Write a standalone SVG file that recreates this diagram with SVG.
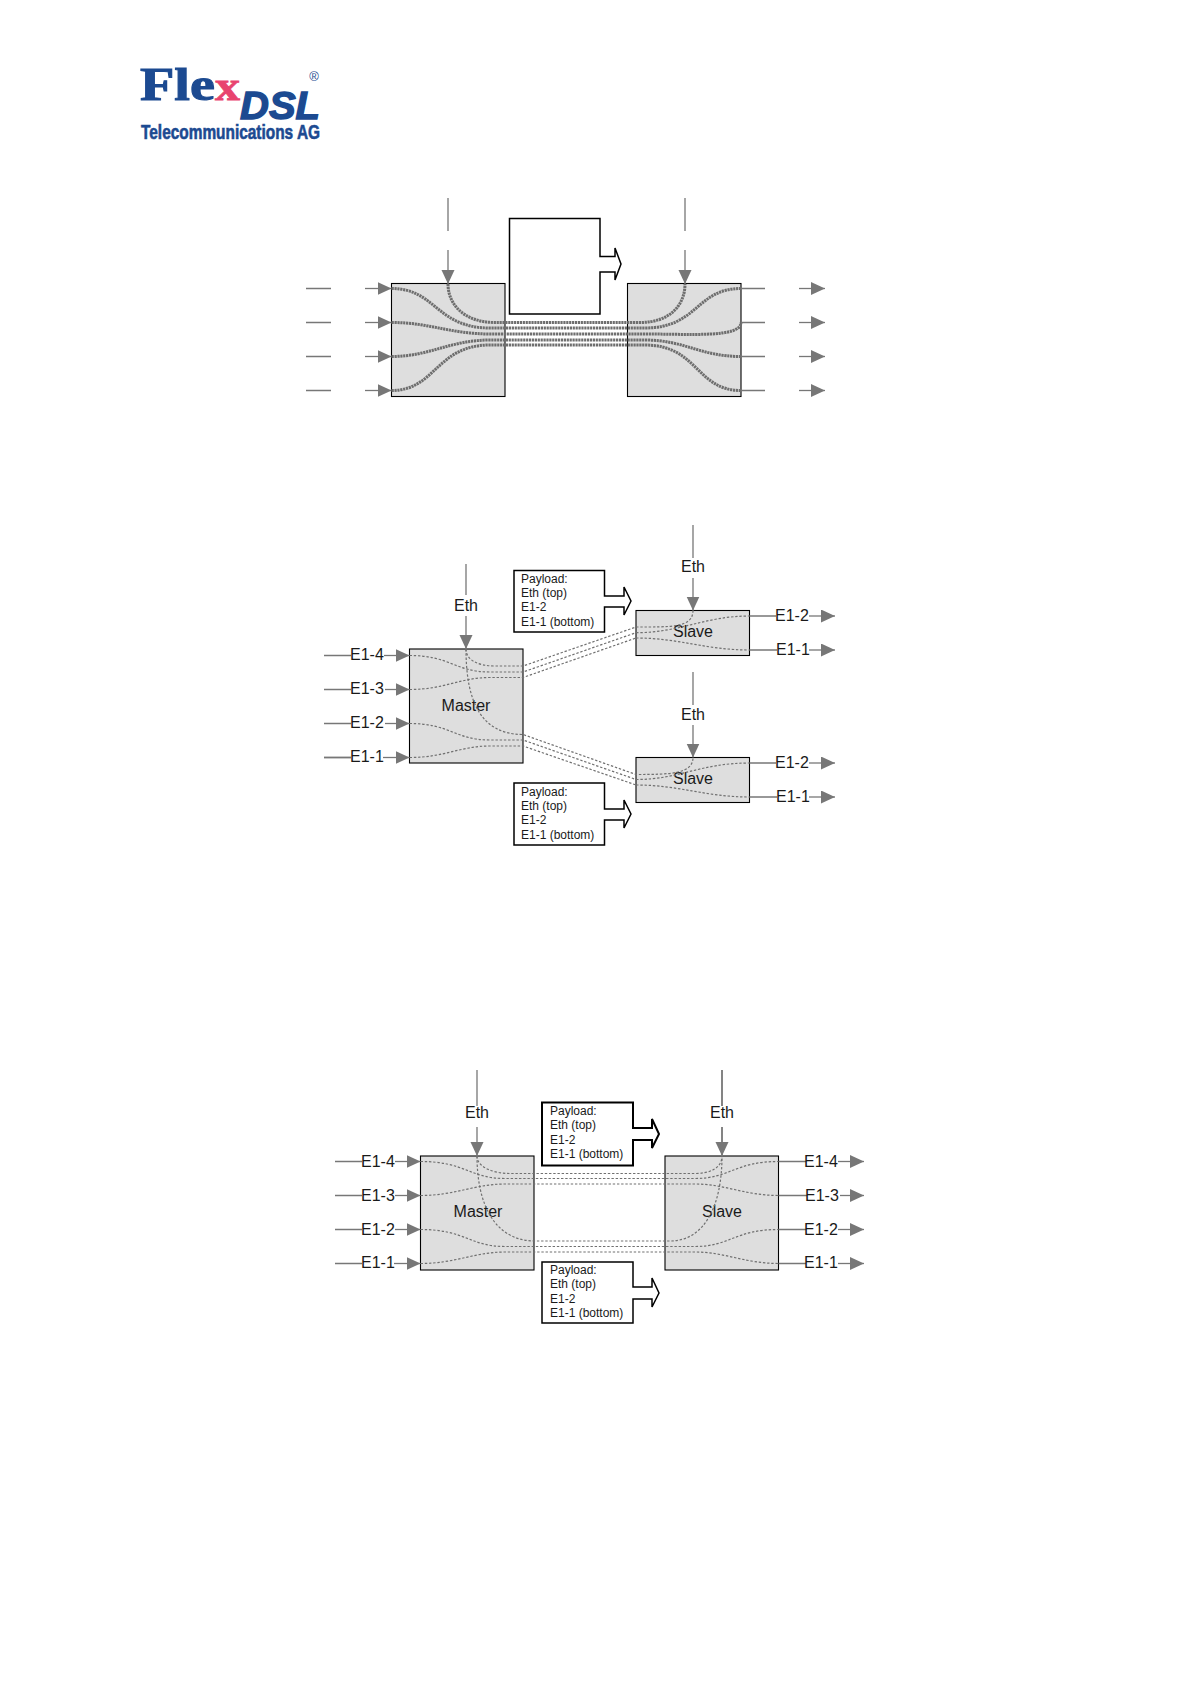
<svg xmlns="http://www.w3.org/2000/svg" width="1190" height="1684" viewBox="0 0 1190 1684">
<style>
.box{fill:#dedede;stroke:#000;stroke-width:1.1}
.pay{fill:#fff;stroke:#000;stroke-width:1.5}
.ln{fill:none;stroke:#777;stroke-width:1.3}
.ar{marker-end:url(#a)}
.thick{fill:none;stroke:#6e6e6e;stroke-width:3;stroke-dasharray:2.2 .7}
.dot{fill:none;stroke:#707070;stroke-width:1.2;stroke-dasharray:2.4 1.8}
text{font-family:"Liberation Sans",Arial,sans-serif;fill:#1a1a1a}
.lb{font-size:16px}
.c{text-anchor:middle}
.pt{font-size:12px}
.lg{fill:#1c4a91;stroke:#1c4a91}
</style>
<defs>
<marker id="a" markerUnits="userSpaceOnUse" markerWidth="15" markerHeight="14" refX="14" refY="6.500" orient="auto"><path d="M0 0L14 6.500L0 13Z" fill="#777"/></marker>
</defs>

<g id="logo">
<text x="140" y="100" font-size="47" font-weight="bold" class="lg" stroke-width="1" style="font-family:'Liberation Serif',serif" textLength="75" lengthAdjust="spacingAndGlyphs">Fle</text>
<text x="215" y="100" font-size="42" font-weight="bold" style="font-family:'Liberation Serif',serif;fill:#e8436f;stroke:#e8436f;stroke-width:.8" textLength="25" lengthAdjust="spacingAndGlyphs">x</text>
<text x="240" y="119" font-size="39" font-weight="bold" font-style="italic" class="lg" stroke-width="1.4" textLength="80" lengthAdjust="spacingAndGlyphs">DSL</text>
<text x="141" y="139" font-size="20" font-weight="bold" class="lg" stroke-width=".6" textLength="179" lengthAdjust="spacingAndGlyphs">Telecommunications AG</text>
<text x="314" y="81" font-size="13" class="c" style="fill:#1c4a91">®</text>
</g>

<!-- Diagram 1 -->
<g id="d1-left"><rect class="box" x="391.500" y="283.500" width="113.500" height="113"/></g>
<g id="d1-right"><rect class="box" x="627.500" y="283.500" width="113.500" height="113"/></g>
<g id="d1-payload"><path class="pay" d="M509.500 218.500H600V256.500H615V248L621 264L615 280V272H600V314H509.500Z"/></g>

<!-- Diagram 2 -->
<g id="d2-master"><rect class="box" x="409.500" y="649" width="113.500" height="114"/><text class="lb c" x="466" y="711">Master</text></g>
<g id="d2-slave1"><rect class="box" x="636" y="610.500" width="113.500" height="45"/><text class="lb c" x="693" y="637">Slave</text></g>
<g id="d2-slave2"><rect class="box" x="636" y="757.500" width="113.500" height="45"/><text class="lb c" x="693" y="784">Slave</text></g>
<g id="d2-payload1"><path class="pay" d="M514 570.500H604.500V596H624V587L631 601L624 615V607H604.500V632H514Z"/>
<text class="pt" x="521" y="583">Payload:</text><text class="pt" x="521" y="597">Eth (top)</text><text class="pt" x="521" y="611">E1-2</text><text class="pt" x="521" y="626">E1-1 (bottom)</text></g>
<g id="d2-payload2"><path class="pay" d="M514 783H604.500V809H624V800L631 814L624 828V820H604.500V845H514Z"/>
<text class="pt" x="521" y="796">Payload:</text><text class="pt" x="521" y="810">Eth (top)</text><text class="pt" x="521" y="824">E1-2</text><text class="pt" x="521" y="839">E1-1 (bottom)</text></g>

<!-- Diagram 3 -->
<g id="d3-master"><rect class="box" x="420.500" y="1156" width="113.500" height="114"/><text class="lb c" x="478" y="1217">Master</text></g>
<g id="d3-slave"><rect class="box" x="665" y="1156" width="113.500" height="114"/><text class="lb c" x="722" y="1217">Slave</text></g>
<g id="d3-payload1"><path class="pay" d="M542 1102.500H633V1128H652V1119L659 1134L652 1148V1140H633V1165.500H542Z" style="stroke-width:2"/>
<text class="pt" x="550" y="1115">Payload:</text><text class="pt" x="550" y="1129">Eth (top)</text><text class="pt" x="550" y="1144">E1-2</text><text class="pt" x="550" y="1158">E1-1 (bottom)</text></g>
<g id="d3-payload2"><path class="pay" d="M542 1262H633V1287H652V1278L659 1293L652 1307V1299H633V1323H542Z"/>
<text class="pt" x="550" y="1274">Payload:</text><text class="pt" x="550" y="1288">Eth (top)</text><text class="pt" x="550" y="1303">E1-2</text><text class="pt" x="550" y="1317">E1-1 (bottom)</text></g>

<g id="connectors">
<!-- D1 -->
<path class="ln" d="M306 288.500H331M306 322.500H331M306 356.500H331M306 390.500H331"/>
<path class="ln ar" d="M365 288.500H391.500"/><path class="ln ar" d="M365 322.500H391.500"/><path class="ln ar" d="M365 356.500H391.500"/><path class="ln ar" d="M365 390.500H391.500"/>
<path class="ln" d="M448 198V231M685 198V231"/>
<path class="ln ar" d="M448 250V284"/><path class="ln ar" d="M685 250V284"/>
<path class="ln" d="M741 288.500H765M741 322.500H765M741 356.500H765M741 390.500H765"/>
<path class="ln ar" d="M799 288.500H825"/><path class="ln ar" d="M799 322.500H825"/><path class="ln ar" d="M799 356.500H825"/><path class="ln ar" d="M799 390.500H825"/>
<g class="thick">
<path d="M391.500 288.500C436 288.500 436 328 490 328H645C698 328 696 288.500 741 288.500"/>
<path d="M391.500 322.500C430 322.500 450 334 490 334H645C690 334 741 338 741 322.500"/>
<path d="M391.500 356.500C430 356.500 450 340 490 340H645C685 340 700 356.500 741 356.500"/>
<path d="M391.500 390.500C436 390.500 436 345 490 345H645C698 345 696 390.500 741 390.500"/>
<path d="M448 284C448 305 465 322.500 495 322.500H640C670 322.500 685 305 685 284"/>
</g>
<!-- D2 -->
<path class="ln" d="M324 655.500H351M324 689.500H351M324 723.500H351"/><path class="ln" d="M324 757.500H351" style="stroke-width:1.8"/>
<path class="ln ar" d="M384 655.500H409.500"/><path class="ln ar" d="M385 689.500H409.500"/><path class="ln ar" d="M385 723.500H409.500"/><path class="ln ar" d="M383 757.500H409.500"/>
<path class="ln" d="M466 564V595"/><path class="ln ar" d="M466 616V649"/>
<path class="ln" d="M693 525V558"/><path class="ln ar" d="M693 578V610.500"/>
<path class="ln" d="M693 672V705"/><path class="ln ar" d="M693 725V757.500"/>
<path class="ln" d="M749.500 616H776M749.500 650H777M749.500 763H776M749.500 797H777"/>
<path class="ln ar" d="M809 616H835"/><path class="ln ar" d="M809 650H835"/><path class="ln ar" d="M809 763H835"/><path class="ln ar" d="M809 797H835"/>
<g class="dot">
<path d="M466 649C466 660 478 666 495 666H523L636 627C670 627 693 628 693 610.500"/>
<path d="M409.500 655.500C450 655.500 455 672 490 672H523L636 632.700"/>
<path d="M409.500 689.500C445 689.500 460 677.500 490 677.500H523L636 638"/>
<path d="M466 649C466 700 480 734.500 523 734.500L636 774.500C670 774.500 693 774 693 757.500"/>
<path d="M409.500 723.500C450 723.500 455 740 490 740H523L636 779.500"/>
<path d="M409.500 757.500C445 757.500 460 746 490 746H523L636 785"/>
<path d="M636 632.700C680 632.700 705 616 749.500 616"/><path d="M636 638C680 638 705 650 749.500 650"/>
<path d="M636 779.500C680 779.500 700 763 749.500 763"/><path d="M636 785C680 785 705 797 749.500 797"/>
</g>
<!-- D3 -->
<path class="ln" d="M335 1161.500H362M335 1195.500H362M335 1229.500H362M335 1263.500H362"/>
<path class="ln ar" d="M395 1161.500H420.500"/><path class="ln ar" d="M395 1195.500H420.500"/><path class="ln ar" d="M395 1229.500H420.500"/><path class="ln ar" d="M394 1263.500H420.500"/>
<path class="ln" d="M477 1070V1106"/><path class="ln ar" d="M477 1127V1156"/>
<path class="ln" d="M722 1070V1106" style="stroke-width:1.8"/><path class="ln ar" d="M722 1127V1156" style="stroke-width:1.8"/>
<path class="ln" d="M778.500 1161.500H806M778.500 1195.500H807M778.500 1229.500H806M778.500 1263.500H806"/>
<path class="ln ar" d="M838 1161.500H864"/><path class="ln ar" d="M840 1195.500H864"/><path class="ln ar" d="M838 1229.500H864"/><path class="ln ar" d="M838 1263.500H864"/>
<g class="dot">
<path d="M477 1156C477 1168 495 1173.500 510 1173.500H695C710 1173.500 722 1168 722 1156"/>
<path d="M420.500 1161.500C465 1161.500 470 1178.500 505 1178.500H695C730 1178.500 735 1161.500 778.500 1161.500"/>
<path d="M420.500 1195.500C455 1195.500 475 1184 505 1184H695C725 1184 745 1195.500 778.500 1195.500"/>
<path d="M477 1156C477 1205 495 1241 535 1241H670C705 1241 722 1205 722 1156"/>
<path d="M420.500 1229.500C465 1229.500 470 1246.500 505 1246.500H695C730 1246.500 735 1229.500 778.500 1229.500"/>
<path d="M420.500 1263.500C455 1263.500 475 1252 505 1252H695C725 1252 745 1263.500 778.500 1263.500"/>
</g>
</g>

<g id="labels">
<text class="lb c" x="466" y="611">Eth</text><text class="lb c" x="693" y="572">Eth</text><text class="lb c" x="693" y="720">Eth</text>
<text class="lb" x="350" y="660">E1-4</text><text class="lb" x="350" y="694">E1-3</text><text class="lb" x="350" y="728">E1-2</text><text class="lb" x="350" y="762">E1-1</text>
<text class="lb" x="775" y="621">E1-2</text><text class="lb" x="776" y="655">E1-1</text><text class="lb" x="775" y="768">E1-2</text><text class="lb" x="776" y="802">E1-1</text>
<text class="lb c" x="477" y="1118">Eth</text><text class="lb c" x="722" y="1118">Eth</text>
<text class="lb" x="361" y="1167">E1-4</text><text class="lb" x="361" y="1201">E1-3</text><text class="lb" x="361" y="1235">E1-2</text><text class="lb" x="361" y="1268">E1-1</text>
<text class="lb" x="804" y="1167">E1-4</text><text class="lb" x="805" y="1201">E1-3</text><text class="lb" x="804" y="1235">E1-2</text><text class="lb" x="804" y="1268">E1-1</text>
</g>
</svg>
